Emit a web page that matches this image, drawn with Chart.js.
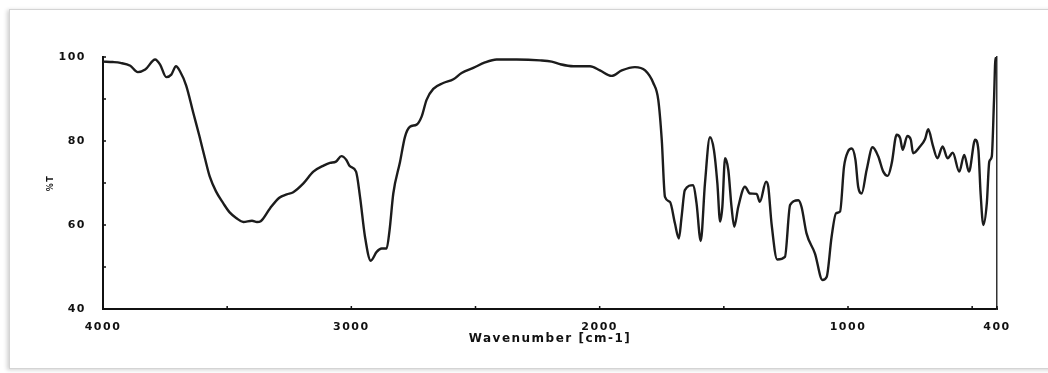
<!DOCTYPE html>
<html>
<head>
<meta charset="utf-8">
<script src="https://cdn.jsdelivr.net/npm/chart.js@4.4.0/dist/chart.umd.min.js"></script>
<style>
  html, body { margin: 0; padding: 0; background: #fff; }
  #frame {
    position: absolute; left: 9px; top: 9px; width: 1045px; height: 358px;
    border: 1px solid #d4d4d4; box-shadow: -2px 1px 4px rgba(0,0,0,0.18);
  }
  #wrap { position: absolute; left: 0; top: 0; width: 1048px; height: 373px; }
</style>
</head>
<body>
<div id="frame"></div>
<div id="wrap"><canvas id="myChart"></canvas></div>
<script>
// wavenumber (cm-1) from left to right
var wavenumbers = [4000,3960,3930,3890,3860,3830,3790,3770,3745,3725,3706,3690,3665,3636,3611,3590,3570,3545,3516,3490,
  3462,3435,3400,3380,3365,3327,3290,3260,3234,3193,3153,3110,3086,3062,3040,3020,3006,2981,2965,2945,
  2922,2898,2878,2858,2846,2831,2804,2784,2764,2737,2717,2697,2670,2630,2589,2556,2509,2462,2415,2334,
  2240,2193,2160,2106,2039,1999,1952,1911,1858,1817,1784,1764,1750,1737,1717,1697,1681,1670,1657,1623,
  1610,1593,1576,1556,1540,1526,1515,1506,1495,1482,1469,1458,1442,1415,1395,1368,1355,1330,1321,1308,
  1285,1254,1233,1200,1187,1167,1133,1103,1086,1066,1048,1032,1016,1000,985,970,959,945,925,901,
  878,858,840,824,804,790,780,761,747,738,710,690,677,659,640,619,599,578,552,532,
  513,488,475,466,455,441,431,421,412,406,400];
// %T values
var transmittance = [98.9,98.8,98.6,97.9,96.4,97.0,99.4,98.2,95.2,95.8,97.8,96.6,93.2,86.6,81.0,76.0,71.5,68.0,65.2,63.0,
  61.6,60.7,61.0,60.7,60.9,64.0,66.5,67.3,67.8,69.9,72.7,74.2,74.8,75.1,76.4,75.5,74.0,72.7,66.7,57.2,
  51.5,53.6,54.4,54.4,58.8,67.5,75.0,81.0,83.4,83.9,85.8,89.8,92.4,93.8,94.7,96.2,97.4,98.7,99.4,99.4,
  99.2,98.9,98.3,97.8,97.8,96.8,95.5,96.8,97.6,96.8,93.8,89.8,80.3,66.7,65.5,60.4,56.8,62.0,68.3,69.5,
  65.2,56.2,69.9,80.9,77.9,69.9,60.8,64.3,75.9,73.1,64.3,59.6,64.3,69.1,67.5,67.4,65.5,70.3,69.1,60.4,
  51.8,52.4,64.8,65.9,64.3,58.0,53.2,46.9,47.6,57.2,62.8,63.2,73.9,77.5,78.2,75.5,69.1,67.5,73.1,78.5,
  76.3,72.7,71.7,74.7,81.5,80.7,77.9,81.2,80.3,77.1,78.7,80.4,82.8,79.1,75.9,78.7,75.9,77.2,72.7,76.7,
  72.7,80.3,77.9,67.5,60.0,65.2,75.1,76.3,89.8,99.8,99.0];

var xTicks = [4000,3500,3000,2500,2000,1500,1000,500,400];
var xLabels = [4000,3000,2000,1000,400];
var yTicks = [40,50,60,70,80,90,100];
var yLabels = [40,60,80,100];

var points = wavenumbers.map(function (w, i) { return { x: w, y: transmittance[i] }; });

var tickFont = { family: 'DejaVu Sans', size: 11, weight: 'bold' };

// small inward tick marks on the two axes
var innerTicks = {
  id: 'innerTicks',
  beforeDraw: function (chart) { chart.ctx.letterSpacing = '1.5px'; },
  afterDraw: function (chart) {
    var ctx = chart.ctx, a = chart.chartArea;
    ctx.save();
    ctx.strokeStyle = '#111';
    ctx.lineWidth = 1.5;
    ctx.beginPath();
    xTicks.forEach(function (t) {
      var px = chart.scales.x.getPixelForValue(t);
      ctx.moveTo(px, a.bottom); ctx.lineTo(px, a.bottom - 3);
    });
    yTicks.forEach(function (t) {
      var py = chart.scales.y.getPixelForValue(t);
      ctx.moveTo(a.left, py); ctx.lineTo(a.left + 3, py);
    });
    ctx.stroke();
    ctx.restore();
  }
};

new Chart(document.getElementById('myChart'), {
  type: 'line',
  data: {
    datasets: [{
      data: points,
      borderColor: '#1c1c1c',
      borderWidth: 2.4,
      pointRadius: 0,
      cubicInterpolationMode: 'monotone',
      fill: false
    }]
  },
  options: {
    responsive: true,
    maintainAspectRatio: false,
    animation: false,
    layout: { padding: { left: 40, top: 57, right: 51, bottom: 0 } },
    plugins: { legend: { display: false }, tooltip: { enabled: false } },
    scales: {
      x: {
        type: 'linear',
        reverse: true,
        min: 400,
        max: 4000,
        afterBuildTicks: function (s) { s.ticks = xTicks.map(function (v) { return { value: v }; }); },
        afterFit: function (s) { s.height = 64; },
        grid: { display: false },
        border: { display: true, color: '#111', width: 2 },
        ticks: {
          autoSkip: false, maxRotation: 0, padding: 4, color: '#111', font: tickFont,
          callback: function (v) { return xLabels.indexOf(v) >= 0 ? String(v) : ''; }
        },
        title: {
          display: true, text: 'Wavenumber [cm-1]', color: '#111',
          font: { family: 'DejaVu Sans', size: 12, weight: 'bold' },
          padding: { top: 0, bottom: 27 }
        }
      },
      y: {
        min: 40,
        max: 100,
        afterBuildTicks: function (s) { s.ticks = yTicks.map(function (v) { return { value: v }; }); },
        afterFit: function (s) { s.width = 63; },
        grid: { display: false },
        border: { display: true, color: '#111', width: 2 },
        ticks: {
          padding: 9, color: '#111', font: tickFont,
          callback: function (v) { return yLabels.indexOf(v) >= 0 ? String(v) : ''; }
        },
        title: {
          display: true, text: '%T', color: '#111',
          font: { family: 'DejaVu Sans', size: 8, weight: 'bold' },
          padding: { top: 6, bottom: 0 }
        }
      },
      y2: {
        position: 'right',
        min: 40,
        max: 100,
        afterFit: function (s) { s.width = 0; },
        grid: { display: false },
        border: { display: true, color: '#333', width: 1.5 },
        ticks: { display: false }
      }
    }
  },
  plugins: [innerTicks]
});
</script>
</body>
</html>
